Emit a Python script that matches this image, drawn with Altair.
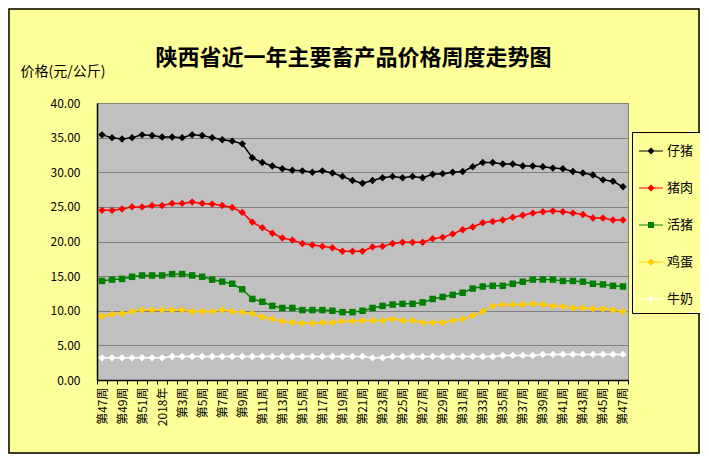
import json
import pandas as pd
import altair as alt

# category labels (weeks)
weeks = ['第47周', '第48周', '第49周', '第50周', '第51周', '第52周', '2018年'] + ['第%d周' % i for i in range(2, 48)]

series_names = ['仔猪', '猪肉', '活猪', '鸡蛋', '牛奶']
series_colors = ['#000000', '#FF0000', '#008000', '#FFCC00', '#FFFFFF']

piglet = [35.4, 35.0, 34.8, 35.0, 35.4, 35.3, 35.1, 35.1, 35.0, 35.4, 35.3, 35.0, 34.7, 34.5, 34.1,
          32.1, 31.4, 30.9, 30.5, 30.3, 30.2, 30.0, 30.2, 29.9, 29.4, 28.8, 28.4, 28.8, 29.2, 29.4,
          29.2, 29.4, 29.2, 29.7, 29.8, 30.0, 30.1, 30.8, 31.4, 31.4, 31.2, 31.2, 30.9, 30.9, 30.8,
          30.6, 30.5, 30.1, 29.9, 29.6, 28.9, 28.7, 27.9]
pork = [24.5, 24.5, 24.7, 25.0, 25.0, 25.2, 25.2, 25.5, 25.5, 25.7, 25.5, 25.4, 25.2, 24.9, 24.2,
        22.8, 22.0, 21.2, 20.5, 20.2, 19.7, 19.5, 19.3, 19.1, 18.6, 18.6, 18.6, 19.2, 19.3, 19.7,
        19.9, 19.9, 19.9, 20.4, 20.6, 21.1, 21.7, 22.1, 22.7, 22.9, 23.1, 23.5, 23.8, 24.1, 24.3,
        24.4, 24.3, 24.1, 23.9, 23.4, 23.4, 23.1, 23.1]
hog = [14.3, 14.5, 14.6, 14.9, 15.1, 15.1, 15.1, 15.3, 15.3, 15.1, 14.9, 14.5, 14.2, 13.9, 13.1,
       11.7, 11.3, 10.7, 10.4, 10.4, 10.1, 10.1, 10.1, 10.0, 9.8, 9.8, 10.0, 10.4, 10.7, 10.9,
       11.0, 11.0, 11.2, 11.7, 12.0, 12.3, 12.6, 13.2, 13.5, 13.6, 13.6, 13.9, 14.2, 14.5, 14.5,
       14.5, 14.3, 14.3, 14.2, 13.9, 13.8, 13.6, 13.5]
egg = [9.2, 9.5, 9.6, 9.9, 10.1, 10.1, 10.1, 10.1, 10.1, 9.9, 9.9, 9.9, 10.1, 9.9, 9.8,
       9.6, 9.1, 8.8, 8.5, 8.3, 8.2, 8.2, 8.3, 8.3, 8.5, 8.5, 8.6, 8.6, 8.6, 8.8,
       8.6, 8.6, 8.3, 8.3, 8.3, 8.6, 8.8, 9.3, 9.9, 10.7, 10.9, 10.9, 10.9, 11.0, 10.9,
       10.7, 10.6, 10.4, 10.4, 10.3, 10.3, 10.1, 9.9]
milk = [3.2, 3.2, 3.2, 3.2, 3.2, 3.2, 3.2, 3.4, 3.4, 3.4, 3.4, 3.4, 3.4, 3.4, 3.4,
        3.4, 3.4, 3.4, 3.4, 3.4, 3.4, 3.4, 3.4, 3.4, 3.4, 3.4, 3.4, 3.2, 3.2, 3.4,
        3.4, 3.4, 3.4, 3.4, 3.4, 3.4, 3.4, 3.4, 3.4, 3.4, 3.55, 3.55, 3.55, 3.55, 3.7,
        3.7, 3.7, 3.7, 3.7, 3.7, 3.7, 3.7, 3.7]

y_ticks = [0, 5, 10, 15, 20, 25, 30, 35, 40]

FONT = 'Noto Sans CJK SC'
BG = '#FFFF99'

rows = []
for name, vals in zip(series_names, [piglet, pork, hog, egg, milk]):
    for i, v in enumerate(vals):
        rows.append({'idx': i, 'series': name, 'value': v})
df = pd.DataFrame(rows)

n = len(weeks)
tick_vals = [i - 0.5 for i in range(n + 1)]
label_expr = ("((datum.value + 0.5) % 2 == 0 && datum.value < " + str(n - 1) + ") ? "
              + json.dumps(weeks, ensure_ascii=False) + "[datum.value + 0.5] : ''")

x_enc = alt.X('idx:Q',
              scale=alt.Scale(domain=[-0.5, n - 0.5], nice=False, zero=False),
              axis=alt.Axis(values=tick_vals, labelExpr=label_expr, labelAngle=-90,
                            labelOffset=5, labelPadding=3, tickSize=4, tickColor='black',
                            domainColor='black', domainWidth=1.5, grid=False, title=None,
                            labelOverlap=False, labelBound=False, labelFlush=False,
                            labelFont=FONT, labelFontSize=12, labelColor='black'))
y_enc = alt.Y('value:Q',
              scale=alt.Scale(domain=[0, 40], nice=False, zero=True),
              axis=alt.Axis(values=y_ticks, format='.2f', ticks=False, labelPadding=17,
                            grid=True, gridColor='#808080', gridWidth=1,
                            domainColor='black', domainWidth=1.5,
                            labelFont=FONT, labelFontSize=12, labelColor='black',
                            title='价格(元/公斤)', titleAngle=0, titleX=-77, titleY=-32,
                            titleAlign='left', titleBaseline='middle', titleFont=FONT,
                            titleFontSize=14, titleFontWeight='normal', titleColor='black'))

color_scale = alt.Scale(domain=series_names, range=series_colors)

legend_paths = [
    'M-1,-0.05H1V0.05H-1ZM0,-0.3L0.3,0L0,0.3L-0.3,0Z',
    'M-1,-0.05H1V0.05H-1ZM0,-0.3L0.3,0L0,0.3L-0.3,0Z',
    'M-1,-0.05H1V0.05H-1ZM-0.25,-0.25H0.25V0.25H-0.25Z',
    'M-1,-0.05H1V0.05H-1ZM0,-0.3L0.3,0L0,0.3L-0.3,0Z',
    'M-1,-0.05H1V0.05H-1ZM0,-0.25L0.25,0L0,0.25L-0.25,0Z',
]


def make_legend():
    return alt.Legend(title=None, orient='none', legendX=535, legendY=29,
                      direction='vertical', padding=7, rowPadding=18,
                      symbolSize=576, symbolStrokeWidth=0,
                      labelFont=FONT, labelFontSize=13, labelColor='black', labelOffset=4,
                      strokeColor='black', fillColor=BG, cornerRadius=0)


base = alt.Chart(df)

legend_layer = base.transform_filter('false').mark_point(filled=True, opacity=1).encode(
    x=x_enc, y=y_enc,
    color=alt.Color('series:N', scale=color_scale, legend=make_legend()),
    shape=alt.Shape('series:N', scale=alt.Scale(domain=series_names, range=legend_paths),
                    legend=make_legend()),
)

lines = base.mark_line(strokeWidth=1.5).encode(
    x=x_enc, y=y_enc,
    color=alt.Color('series:N', scale=color_scale, legend=make_legend()),
    detail='series:N')

diamonds = base.transform_filter(alt.datum.series != '活猪').mark_point(
    shape='diamond', filled=True, size=55, opacity=1).encode(
    x=x_enc, y=y_enc,
    color=alt.Color('series:N', scale=color_scale, legend=make_legend()))

squares = base.transform_filter(alt.datum.series == '活猪').mark_point(
    shape='square', filled=True, size=42, opacity=1).encode(
    x=x_enc, y=y_enc,
    color=alt.Color('series:N', scale=color_scale, legend=make_legend()))

frame = alt.Chart(pd.DataFrame({'a': [0]})).mark_rect(
    fillOpacity=0, stroke='black', strokeWidth=1.5).encode(
    x=alt.value(-88), x2=alt.value(602), y=alt.value(-94), y2=alt.value(350))

chart = alt.layer(legend_layer, lines, diamonds, squares, frame).properties(
    width=531, height=277,
    padding={'left': 89, 'top': 95, 'right': 72, 'bottom': 74},
    autosize=alt.AutoSizeParams(type='none'),
    background=BG,
    title=alt.TitleParams('陕西省近一年主要畜产品价格周度走势图', font=FONT, fontSize=22,
                          fontWeight='bold', color='black', anchor='middle', frame='group',
                          dx=-9, offset=-84, baseline='bottom'),
).configure_view(fill='#C0C0C0', stroke='#808080', strokeWidth=1)

chart.save('out.html', embed_options={'renderer': 'svg', 'actions': False})
